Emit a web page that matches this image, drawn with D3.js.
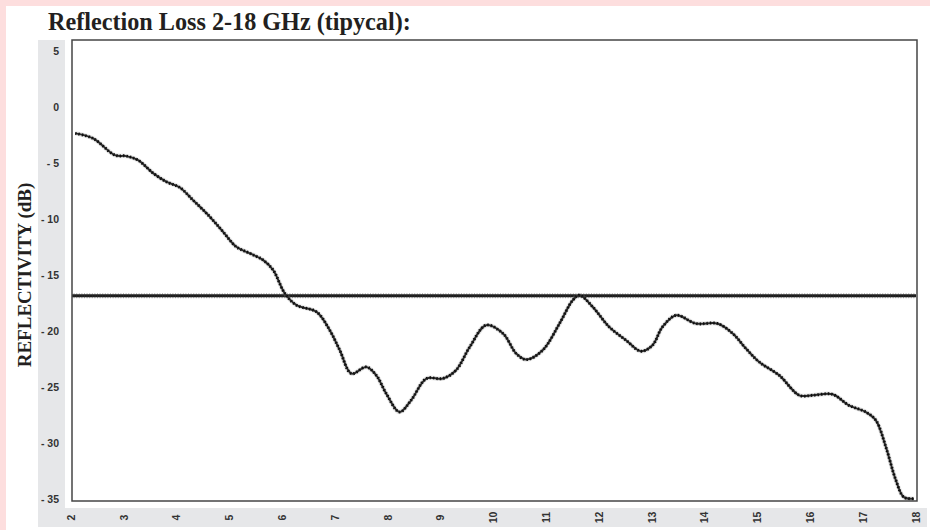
<!DOCTYPE html>
<html>
<head>
<meta charset="utf-8">
<script src="https://cdn.jsdelivr.net/npm/d3@7"></script>
<style>
  html, body { margin: 0; padding: 0; background: #fddede; }
  svg { display: block; }
</style>
</head>
<body>
<svg id="chart" width="930" height="530"></svg>
<script>
// Measured reflectivity, frequency in GHz and level in dB
const freqGHz = [2.08, 2.42, 2.83, 3.05, 3.27, 3.56, 3.81, 4.06, 4.31, 4.63,
  4.88, 5.13, 5.39, 5.64, 5.83, 6.05, 6.27, 6.65, 6.90, 7.09,
  7.31, 7.59, 7.78, 7.97, 8.22, 8.44, 8.73, 9.04, 9.29, 9.55,
  9.86, 10.18, 10.43, 10.62, 10.93, 11.25, 11.50, 11.63, 11.88, 12.19,
  12.51, 12.79, 13.01, 13.20, 13.46, 13.83, 14.24, 14.53, 14.78, 15.03,
  15.41, 15.79, 16.04, 16.42, 16.73, 17.05, 17.24, 17.43, 17.62, 17.77, 17.96];
const reflectivityDb = [-2.31, -2.76, -4.25, -4.34, -4.70, -5.88, -6.64, -7.14, -8.27, -9.76,
  -11.10, -12.44, -13.03, -13.63, -14.53, -16.61, -17.65, -18.25, -19.89, -21.68,
  -23.76, -23.17, -23.91, -25.55, -27.19, -26.14, -24.20, -24.20, -23.46, -21.38,
  -19.44, -20.18, -21.97, -22.51, -21.68, -19.29, -17.21, -16.76, -17.81, -19.59,
  -20.78, -21.76, -21.23, -19.59, -18.55, -19.29, -19.29, -20.18, -21.52, -22.72,
  -23.91, -25.70, -25.70, -25.61, -26.59, -27.19, -27.93, -30.32, -33.29, -34.79, -34.93];

// Reference level line
const referenceDb = -16.8;

// Axis ticks
const xTicks = [2, 3, 4, 5, 6, 7, 8, 9, 10, 11, 12, 13, 14, 15, 16, 17, 18];
const yTicks = [5, 0, -5, -10, -15, -20, -25, -30, -35];

const titleText = "Reflection Loss 2-18 GHz (tipycal):";
const yLabelText = "REFLECTIVITY (dB)";

const svg = d3.select("#chart");

// Page panels
svg.append("rect").attr("x", 6).attr("y", 6).attr("width", 924).attr("height", 524).attr("fill", "#ffffff");
svg.append("rect").attr("x", 38).attr("y", 40).attr("width", 27).attr("height", 487).attr("fill", "#e6e7e9");
svg.append("rect").attr("x", 38).attr("y", 508).attr("width", 889).attr("height", 19).attr("fill", "#e6e7e9");

const x = d3.scaleLinear().domain([2, 18]).range([71, 916]);
const y = d3.scaleLinear().domain([-35, 5]).range([499.5, 51.5]);

const frame = { x0: 72, y0: 40, x1: 917, y1: 501 };

const defs = svg.append("defs");
// Soft edge for the traces; region in user space so flat lines are kept
defs.append("filter").attr("id", "soft")
  .attr("filterUnits", "userSpaceOnUse")
  .attr("x", 0).attr("y", 0).attr("width", 930).attr("height", 530)
  .append("feGaussianBlur").attr("stdDeviation", 0.45);
defs.append("clipPath").attr("id", "plotClip")
  .append("rect").attr("x", frame.x0).attr("y", frame.y0)
  .attr("width", frame.x1 - frame.x0).attr("height", frame.y1 - frame.y0);

// Title
svg.append("text")
  .attr("x", 48).attr("y", 30)
  .attr("font-family", "'Liberation Serif', 'Times New Roman', serif")
  .attr("font-weight", "bold")
  .attr("font-size", 24.2)
  .attr("fill", "#231f20")
  .text(titleText);

// Y axis title
svg.append("text")
  .attr("transform", "translate(31,275) rotate(-90)")
  .attr("text-anchor", "middle")
  .attr("font-family", "'Liberation Serif', 'Times New Roman', serif")
  .attr("font-weight", "bold")
  .attr("font-size", 19)
  .attr("fill", "#231f20")
  .text(yLabelText);

// Y tick labels
svg.append("g").selectAll("text").data(yTicks).join("text")
  .attr("x", 59)
  .attr("y", d => y(d))
  .attr("dy", "0.35em")
  .attr("text-anchor", "end")
  .attr("font-family", "'Liberation Sans', Arial, sans-serif")
  .attr("font-weight", "bold")
  .attr("font-size", 10.5)
  .attr("fill", "#333")
  .text(d => d < 0 ? "- " + Math.abs(d) : String(d));

// X tick labels, rotated
svg.append("g").selectAll("text").data(xTicks).join("text")
  .attr("transform", d => `translate(${x(d)},517.5) rotate(-90)`)
  .attr("dy", "0.35em")
  .attr("text-anchor", "middle")
  .attr("font-family", "'Liberation Sans', Arial, sans-serif")
  .attr("font-weight", "bold")
  .attr("font-size", 10.5)
  .attr("fill", "#333")
  .text(d => String(d));

const plot = svg.append("g").attr("clip-path", "url(#plotClip)");

// Reference level: thick grainy line
const refLine = d3.line().x(d => x(d)).y(() => y(referenceDb));
const refGroup = plot.append("g").attr("filter", "url(#soft)");
refGroup.append("path")
  .attr("d", refLine([2, 18]))
  .attr("stroke", "#1c1c1c").attr("stroke-width", 3).attr("fill", "none");
refGroup.append("path")
  .attr("d", refLine([2, 18]))
  .attr("stroke", "#3a3a3a").attr("stroke-width", 5)
  .attr("stroke-dasharray", "1 1.6").attr("opacity", 0.45).attr("fill", "none");

// Reflectivity curve with a beaded stroke
const pts = freqGHz.map((f, i) => [f, reflectivityDb[i]]);
const curve = d3.line()
  .x(d => x(d[0])).y(d => y(d[1]))
  .curve(d3.curveCatmullRom.alpha(0.5));
const curveGroup = plot.append("g").attr("filter", "url(#soft)");
curveGroup.append("path")
  .attr("d", curve(pts))
  .attr("stroke", "#999").attr("stroke-width", 4.5).attr("opacity", 0.25).attr("fill", "none");
curveGroup.append("path")
  .attr("d", curve(pts))
  .attr("stroke", "#2b2b2b").attr("stroke-width", 2).attr("fill", "none");
curveGroup.append("path")
  .attr("d", curve(pts))
  .attr("stroke", "#111").attr("stroke-width", 3)
  .attr("stroke-dasharray", "1.4 2").attr("fill", "none");

// Plot frame
svg.append("rect")
  .attr("x", frame.x0).attr("y", frame.y0)
  .attr("width", frame.x1 - frame.x0).attr("height", frame.y1 - frame.y0)
  .attr("fill", "none").attr("stroke", "#454545").attr("stroke-width", 1.5);
</script>
</body>
</html>
